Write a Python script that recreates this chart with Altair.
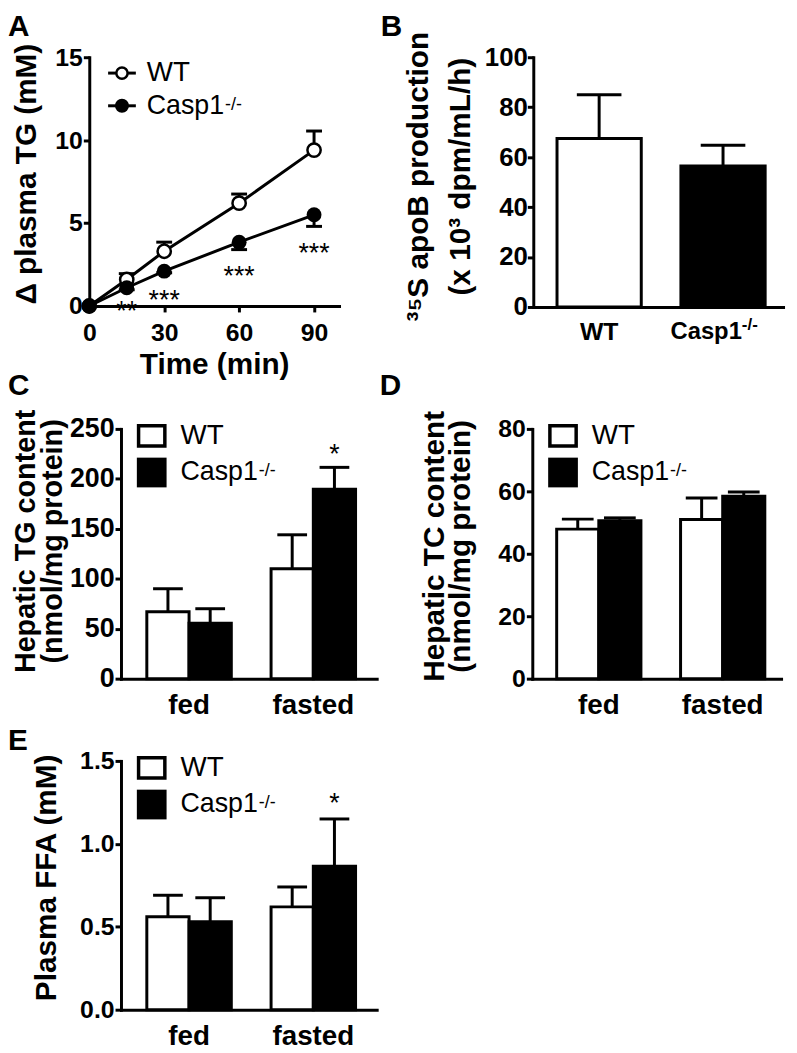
import altair as alt
import pandas as pd

FONT = "Liberation Sans"

# ---------------- data ----------------
# A: plasma TG accumulation
time_min = [0, 15, 30, 60, 90]
a_wt_mean = [0.0, 1.6, 3.3, 6.2, 9.4]
a_wt_sem = [0.0, 0.35, 0.55, 0.55, 1.15]
a_ko_mean = [0.0, 1.1, 2.1, 3.85, 5.5]
a_ko_sem = [0.0, 0.12, 0.1, 0.45, 0.7]
a_sig_time = [15, 30, 60, 90]
a_sig_level = [0.12, 0.78, 2.21, 3.59]
a_sig_text = ["**", "***", "***", "***"]
a_xticks = [0, 30, 60, 90]
a_yticks = [0, 5, 10, 15]

genotypes = ["WT", "Casp1"]
ko_sup = "-/-"

# B: 35S apoB production
b_mean = [67.5, 56.5]
b_sem = [17.5, 8.3]
b_yticks = [0, 20, 40, 60, 80, 100]

conditions = ["fed", "fasted"]
# C: hepatic TG
c_wt_mean = [67.0, 110.0]
c_wt_sem = [23.0, 34.0]
c_ko_mean = [55.5, 189.5]
c_ko_sem = [14.5, 22.0]
c_yticks = [0, 50, 100, 150, 200, 250]
c_sig_level = [232.0]
# D: hepatic TC
d_wt_mean = [47.9, 51.0]
d_wt_sem = [3.2, 6.9]
d_ko_mean = [50.6, 58.4]
d_ko_sem = [0.9, 1.4]
d_yticks = [0, 20, 40, 60, 80]
# E: plasma FFA
e_wt_mean = [0.56, 0.62]
e_wt_sem = [0.13, 0.12]
e_ko_mean = [0.53, 0.865]
e_ko_sem = [0.145, 0.285]
e_yticks = [0.0, 0.5, 1.0, 1.5]
e_sig_level = [1.285]

sig_cond = ["fasted"]
sig_geno = ["Casp1"]

# ---------------- layout (one shared canvas, pixel frame of the figure) ----------------
VIEW_W, VIEW_H = 700, 961


def one(t=""):
    return pd.DataFrame({"t": [t]})


def label(t, x, y, size, weight="normal", align="left", baseline="middle"):
    return alt.Chart(one(t)).mark_text(
        font=FONT, fontSize=size, fontWeight=weight, align=align,
        baseline=baseline, color="black"
    ).encode(text="t:N", x=alt.value(x), y=alt.value(y))


def box_legend(ox, oy):
    wt_box = alt.Chart(one()).mark_rect(fill="white", stroke="black", strokeWidth=3.5).encode(
        x=alt.value(ox + 17.75), x2=alt.value(ox + 44.25),
        y=alt.value(oy - 3.25), y2=alt.value(oy + 17.25))
    ko_box = alt.Chart(one()).mark_rect(fill="black").encode(
        x=alt.value(ox + 16), x2=alt.value(ox + 46), y=alt.value(oy + 29), y2=alt.value(oy + 59))
    return [wt_box, ko_box,
            label(genotypes[0], ox + 60, oy + 7, 28),
            label(genotypes[1], ox + 60, oy + 44, 27),
            label(ko_sup, ox + 139, oy + 48, 18, baseline="alphabetic")]


# ---------------- panel A ----------------
n = len(time_min)
dfA = pd.DataFrame({
    "time": time_min + time_min,
    "mean": a_wt_mean + a_ko_mean,
    "sem": a_wt_sem + a_ko_sem,
    "geno": [genotypes[0]] * n + [genotypes[1]] * n,
})
baseA = alt.Chart(dfA).transform_calculate(
    end="datum.geno == 'WT' ? datum.mean + datum.sem : datum.mean - datum.sem")
sxA = alt.Scale(domain=[0, 100], range=[0, 252], nice=False, zero=False)
syA = alt.Scale(domain=[0, 15], range=[251, 0], nice=False)
axA_x = alt.Axis(orient="bottom", offset=251 - VIEW_H, values=a_xticks, title="Time (min)",
                 titleX=126, titleY=44, labelPadding=9, labelFontSize=25)
axA_y = alt.Axis(orient="left", offset=0, values=a_yticks, title="Δ plasma TG (mM)",
                 titleX=-48, titleY=117.5, labelPadding=1, labelFontSize=25)
xA = alt.X("time:Q", scale=sxA, axis=axA_x)
yA = alt.Y("mean:Q", scale=syA, axis=axA_y)

lineA = baseA.mark_line(color="black", strokeWidth=3).encode(x=xA, y=yA, detail="geno:N")
errA = baseA.transform_filter("datum.time > 0").mark_rule(color="black", strokeWidth=3).encode(
    x=xA, y=yA, y2="end:Q")
capA = baseA.transform_filter("datum.time > 0").mark_tick(
    orient="horizontal", color="black", size=16, thickness=3, opacity=1).encode(
    x=xA, y=alt.Y("end:Q", scale=syA, axis=axA_y))
ptWT = baseA.transform_filter("datum.geno == 'WT'").mark_point(
    shape="circle", filled=True, fill="white", stroke="black", strokeWidth=2.5,
    size=180, opacity=1).encode(x=xA, y=yA)
ptKO = baseA.transform_filter("datum.geno == 'Casp1'").mark_point(
    shape="circle", filled=True, fill="black", strokeWidth=0, size=225, opacity=1).encode(x=xA, y=yA)
sigA = alt.Chart(pd.DataFrame({"time": a_sig_time, "level": a_sig_level, "t": a_sig_text})).mark_text(
    font=FONT, fontSize=27, dy=8, baseline="middle", color="black").encode(
    x=alt.X("time:Q", scale=sxA, axis=axA_x),
    y=alt.Y("level:Q", scale=syA, axis=axA_y), text="t:N")

legA = [
    alt.Chart(one()).mark_rule(color="black", strokeWidth=3).encode(
        x=alt.value(19), x2=alt.value(47), y=alt.value(16)),
    alt.Chart(one()).mark_point(shape="circle", filled=True, fill="white", stroke="black",
                                strokeWidth=2.5, size=130, opacity=1).encode(
        x=alt.value(33), y=alt.value(16)),
    label(genotypes[0], 58, 16, 28),
    alt.Chart(one()).mark_rule(color="black", strokeWidth=3).encode(
        x=alt.value(19), x2=alt.value(47), y=alt.value(49)),
    alt.Chart(one()).mark_point(shape="circle", filled=True, fill="black", strokeWidth=0,
                                size=200, opacity=1).encode(x=alt.value(33), y=alt.value(49)),
    label(genotypes[1], 58, 49, 27),
    label(ko_sup, 137, 53, 18, baseline="alphabetic"),
]
panelA = alt.layer(lineA, errA, capA, ptWT, ptKO, sigA, *legA,
                   label("A", -82, -45, 30, "bold", baseline="top"))

# ---------------- panel B ----------------
dfB = pd.DataFrame({"geno": genotypes, "mean": b_mean, "sem": b_sem})
baseB = alt.Chart(dfB).transform_calculate(end="datum.mean + datum.sem")
sxB = alt.Scale(domain=genotypes, range=[448, 700], paddingInner=0.32, paddingOuter=0.168,
                align=0.57)
xB = alt.X("geno:N", sort=genotypes, scale=sxB,
           axis=alt.Axis(orient="bottom", offset=252 - VIEW_H, title=None, labels=False,
                         ticks=False, tickSize=0))
syB = alt.Scale(domain=[0, 100], range=[252, 0], nice=False)
axB_y = alt.Axis(orient="left", offset=-448, values=b_yticks,
                 title=["³⁵S apoB production", "(x 10³ dpm/mL/h)"],
                 titleX=-101, titleY=120, titleLineHeight=43,
                 labelPadding=0, labelFontSize=26)
yB = alt.Y("mean:Q", scale=syB, axis=axB_y)
fill_scale = alt.Scale(domain=genotypes, range=["white", "black"])
barsB = baseB.mark_bar(stroke="black", strokeWidth=3).encode(
    x=xB, y=yB, fill=alt.Fill("geno:N", scale=fill_scale, legend=None))
errB = baseB.mark_rule(color="black", strokeWidth=3).encode(x=xB, y=yB, y2="end:Q")
capB = baseB.mark_tick(orient="horizontal", color="black", size=45, thickness=3, opacity=1).encode(
    x=xB, y=alt.Y("end:Q", scale=syB, axis=axB_y))
labB_wt = baseB.transform_filter("datum.geno == 'WT'").mark_text(
    font=FONT, fontSize=25, fontWeight="bold", baseline="middle", color="black").encode(
    x=xB, y=alt.value(277), text="geno:N")
labB_ko = baseB.transform_filter("datum.geno == 'Casp1'").mark_text(
    font=FONT, fontSize=24, fontWeight="bold", baseline="middle", align="right", dx=19,
    color="black").encode(x=xB, y=alt.value(277), text="geno:N")
supB = baseB.transform_filter("datum.geno == 'Casp1'").mark_text(
    font=FONT, fontSize=17, fontWeight="bold", baseline="alphabetic", align="left", dx=19,
    color="black").encode(x=xB, y=alt.value(275), text=alt.value(ko_sup))
panelB = alt.layer(barsB, errB, capB, labB_wt, labB_ko, supB,
                   label("B", 294, -45, 30, "bold", baseline="top"))


# ---------------- grouped panels C, D, E ----------------
def group_panel(wt_mean, wt_sem, ko_mean, ko_sem, ymax, yticks, title, title_x, title_y,
                title_size, xr, yr, pad_outer, align, label_size, fmt, cap_size, letter,
                letter_xy, sig_level=None):
    df = pd.DataFrame({
        "cond": conditions + conditions,
        "geno": [genotypes[0]] * 2 + [genotypes[1]] * 2,
        "mean": wt_mean + ko_mean,
        "sem": wt_sem + ko_sem,
    })
    base = alt.Chart(df).transform_calculate(end="datum.mean + datum.sem")
    sx = alt.Scale(domain=conditions, range=xr, paddingInner=0.32, paddingOuter=pad_outer,
                   align=align)
    ax_x = alt.Axis(orient="bottom", offset=yr[0] - VIEW_H, title=None, ticks=False, tickSize=0,
                    labelPadding=13, labelAngle=0, labelFontSize=28)
    x = alt.X("cond:N", sort=conditions, scale=sx, axis=ax_x)
    xo = alt.XOffset("geno:N", sort=genotypes,
                     scale=alt.Scale(domain=genotypes, paddingInner=0, paddingOuter=0))
    sy = alt.Scale(domain=[0, ymax], range=yr, nice=False)
    ax_y = alt.Axis(orient="left", offset=-xr[0], values=yticks, title=title, titleX=title_x,
                    titleY=title_y, titleLineHeight=27, titleFontSize=title_size,
                    labelPadding=1, labelFontSize=label_size, format=fmt)
    y = alt.Y("mean:Q", scale=sy, axis=ax_y)
    bars = base.mark_bar(stroke="black", strokeWidth=3).encode(
        x=x, xOffset=xo, y=y, fill=alt.Fill("geno:N", scale=fill_scale, legend=None))
    err = base.mark_rule(color="black", strokeWidth=3).encode(x=x, xOffset=xo, y=y, y2="end:Q")
    cap = base.mark_tick(orient="horizontal", color="black", size=cap_size, thickness=3,
                         opacity=1).encode(x=x, xOffset=xo,
                                           y=alt.Y("end:Q", scale=sy, axis=ax_y))
    layers = [bars, err, cap]
    if sig_level is not None:
        sig = alt.Chart(pd.DataFrame({"cond": sig_cond, "geno": sig_geno, "level": sig_level,
                                      "t": ["*"] * len(sig_level)})).mark_text(
            font=FONT, fontSize=27, dy=8, baseline="middle", color="black").encode(
            x=x, xOffset=xo, y=alt.Y("level:Q", scale=sy, axis=ax_y), text="t:N")
        layers.append(sig)
    layers += box_legend(xr[0], yr[1])
    layers.append(label(letter, letter_xy[0], letter_xy[1], 30, "bold", baseline="top"))
    return alt.layer(*layers)


panelC = group_panel(c_wt_mean, c_wt_sem, c_ko_mean, c_ko_sem, 250, c_yticks,
                     ["Hepatic TG content", "(nmol/mg protein)"], -81, 488, 29,
                     [32, 290], [627, 375], 0.189, 0.55, 27, "d", 30, "C", (-82, 317),
                     c_sig_level)
panelD = group_panel(d_wt_mean, d_wt_sem, d_ko_mean, d_ko_sem, 80, d_yticks,
                     ["Hepatic TC content", "(nmol/mg protein)"], -84, 493, 30,
                     [447, 698], [627, 375], 0.164, 0.6, 25, "d", 32, "D", (293, 317))
panelE = group_panel(e_wt_mean, e_wt_sem, e_ko_mean, e_ko_sem, 1.5, e_yticks,
                     "Plasma FFA (mM)", -60, 827.5, 30,
                     [32, 290], [961, 710], 0.189, 0.55, 25, ".1f", 30, "E", (-82, 675),
                     e_sig_level)

chart = alt.layer(panelA, panelB, panelC, panelD, panelE).resolve_scale(
    x="independent", y="independent", xOffset="independent"
).resolve_axis(
    x="independent", y="independent"
).properties(
    width=VIEW_W, height=VIEW_H,
    autosize=alt.AutoSizeParams(type="none"),
    padding={"left": 82, "top": 45, "right": 6, "bottom": 36},
).configure_view(stroke=None).configure_axis(
    domainColor="black", domainWidth=3, domainCap="square",
    tickColor="black", tickWidth=3, tickSize=6,
    labelFont=FONT, labelFontWeight="bold", labelColor="black",
    titleFont=FONT, titleFontSize=30, titleFontWeight="bold", titleColor="black",
    grid=False, labelFlush=False, labelOverlap=False
)

chart.save("out.html", embed_options={"renderer": "svg", "actions": False})
